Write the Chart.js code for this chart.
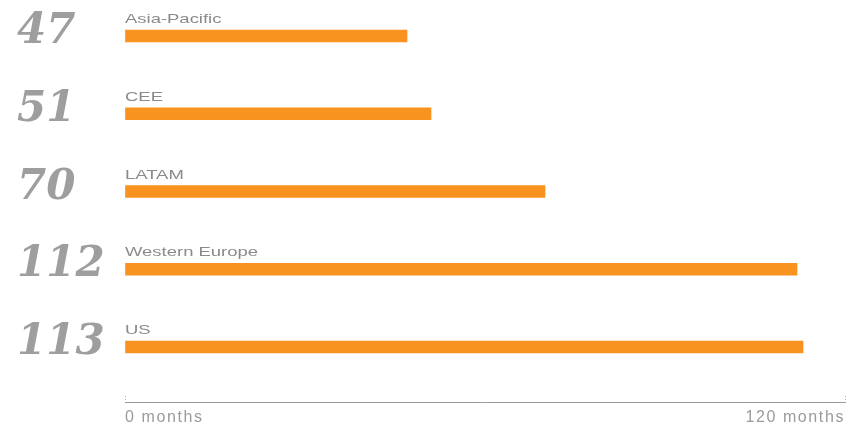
<!DOCTYPE html>
<html>
<head>
<meta charset="utf-8">
<script src="https://cdn.jsdelivr.net/npm/chart.js@4.4.1/dist/chart.umd.min.js"></script>
<style>
  html, body { margin: 0; padding: 0; background: #fff; overflow: hidden; }
  #wrap { position: relative; width: 848px; height: 431px; }
</style>
</head>
<body>
<div id="wrap"><canvas id="months-chart"></canvas></div>
<script>
'use strict';
// DATA
const categories = ['Asia-Pacific', 'CEE', 'LATAM', 'Western Europe', 'US'];
const months = [47, 51, 70, 112, 113];
const tickValues = [0, 120];
const tickUnit = 'months';

// LABELS ABOVE THE BARS AND BIG NUMBERS ON THE LEFT
const rowLabels = {
  id: 'rowLabels',
  // WIDER LETTER SPACING FOR THE AXIS TEXT, LIKE THE ORIGINAL
  beforeDraw(chart) {
    chart.ctx.letterSpacing = '1.6px';
  },
  afterDatasetsDraw(chart) {
    const ctx = chart.ctx;
    const meta = chart.getDatasetMeta(0);
    ctx.save();
    ctx.letterSpacing = '0px';
    meta.data.forEach((bar, i) => {
      ctx.textAlign = 'left';
      ctx.textBaseline = 'alphabetic';
      // category name, stretched a bit sideways
      ctx.save();
      ctx.translate(chart.chartArea.left, bar.y - 13);
      ctx.scale(1.42, 1);
      ctx.fillStyle = '#8a8a8a';
      ctx.font = '13px "Liberation Sans", Arial, sans-serif';
      ctx.fillText(categories[i], 0, 0);
      ctx.restore();
      // big number
      ctx.fillStyle = '#9e9e9e';
      ctx.font = 'italic bold 42px "DejaVu Serif", serif';
      ctx.fillText(String(months[i]), 17, bar.y + 7);
    });
    ctx.restore();
  },
  afterDraw(chart) {
    chart.ctx.letterSpacing = '0px';
  }
};

// BUILD THE CHART
function createBarChart() {
  const data = {
    datasets: [
      {
        data: months.map((v, i) => ({ x: v, y: i })),
        backgroundColor: '#F7931E',
        borderWidth: 0,
        barThickness: 12,
        clip: false,
      },
    ],
  };
  const config = {
    type: 'bar',
    data: data,
    options: {
      indexAxis: 'y',
      responsive: true,
      maintainAspectRatio: false,
      animation: false,
      layout: { padding: { left: 125, right: 3, top: 0, bottom: 0 } },
      plugins: { legend: { display: false }, tooltip: { enabled: false } },
      scales: {
        y: {
          type: 'linear',
          display: false,
          offset: false,
          reverse: true,
          min: -0.463,
          max: 4.707,
        },
        x: {
          type: 'linear',
          offset: false,
          min: tickValues[0],
          max: tickValues[tickValues.length - 1],
          afterBuildTicks: (scale) => {
            scale.ticks = tickValues.map((v) => ({ value: v }));
          },
          afterFit: (scale) => {
            scale.height = 29;
            scale.paddingLeft = 0;
            scale.paddingRight = 0;
          },
          border: { display: true, color: '#9a9a9a', dash: [1, 3] },
          grid: {
            drawOnChartArea: false,
            drawTicks: true,
            tickLength: -8,
            color: '#b0b0b0',
            tickBorderDash: [1, 2],
          },
          ticks: {
            padding: 14,
            align: 'inner',
            maxRotation: 0,
            color: '#9a9a9a',
            font: { family: '"Liberation Sans", Arial, sans-serif', size: 16 },
            callback: (v) => v + ' ' + tickUnit,
          },
        },
      },
    },
    plugins: [rowLabels],
  };
  return new Chart(document.querySelector('#months-chart'), config);
}

createBarChart();
</script>
</body>
</html>
